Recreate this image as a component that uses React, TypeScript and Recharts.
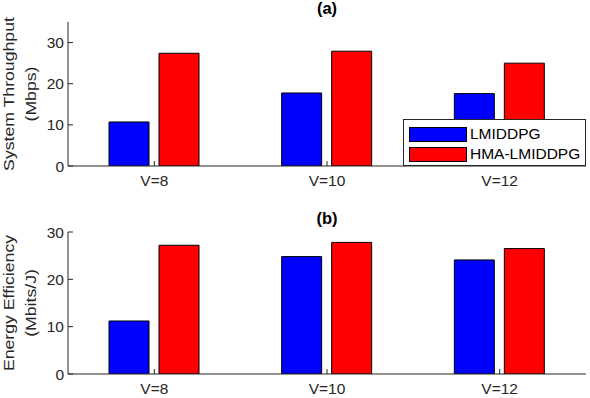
import React from 'react';
import { BarChart, Bar, XAxis, YAxis, Legend } from 'recharts';

const categories = ['V=8', 'V=10', 'V=12'];
const seriesNames = ['LMIDDPG', 'HMA-LMIDDPG'];
const seriesColors = ['#0000ff', '#ff0000'];

const throughputLmi = [10.7, 17.75, 17.6];
const throughputHma = [27.4, 27.9, 25.0];
const efficiencyLmi = [11.2, 24.8, 24.1];
const efficiencyHma = [27.2, 27.8, 26.5];

const throughputTicks = [0, 10, 20, 30];
const efficiencyTicks = [0, 10, 20, 30];

const throughputData = categories.map((c, i) => ({ name: c, a: throughputLmi[i], b: throughputHma[i] }));
const efficiencyData = categories.map((c, i) => ({ name: c, a: efficiencyLmi[i], b: efficiencyHma[i] }));

const FONT = '"Liberation Sans", Arial, Helvetica, sans-serif';
const AXIS = '#262626';
const tickStyle = { fill: AXIS, fontSize: 15.5, fontFamily: FONT };

// y label (two rotated lines) plus the bold panel title above the plot
const SideLabel = ({ viewBox, lines, title, plotWidth }: any) => {
  const cy = viewBox.y + viewBox.height / 2;
  const cx = viewBox.x + viewBox.width + plotWidth / 2;
  return (
    <g>
      {lines.map((t: string, i: number) => (
        <text
          key={i}
          transform={`translate(${13.5 + i * 22.5},${cy}) rotate(-90) scale(1.14,1)`}
          textAnchor="middle"
          fill={AXIS}
          fontSize={15.5}
          fontFamily={FONT}
        >
          {t}
        </text>
      ))}
      <text x={cx} y={viewBox.y - 8} textAnchor="middle" fill="#000" fontSize={16.5} fontWeight="bold" fontFamily={FONT}>
        {title}
      </text>
    </g>
  );
};

const LegendBox = ({ payload }: any) => {
  // keep the series order instead of the alphabetical one
  const items = seriesNames.map((n) => (payload || []).find((p: any) => p.value === n)).filter(Boolean);
  return (
    <div
      style={{
        border: `1px solid ${AXIS}`,
        background: '#fff',
        padding: '4px 0 4px 5px',
        fontFamily: FONT,
        fontSize: 15.5,
        color: '#000',
        boxSizing: 'border-box',
        height: 47,
      }}
    >
      {items.map((p: any, i: number) => (
        <div key={i} style={{ display: 'flex', alignItems: 'center', height: 20 }}>
          <div style={{ width: 58, height: 15, background: p.color, border: '1px solid #000', boxSizing: 'border-box', marginRight: 3 }} />
          <span style={{ lineHeight: '20px' }}>{p.value}</span>
        </div>
      ))}
    </div>
  );
};

type PanelProps = {
  data: any[];
  height: number;
  top: number;
  xHeight: number;
  domainMax: number;
  ticks: number[];
  title: string;
  labelLines: string[];
  legend?: boolean;
};

const W = 590;
const RIGHT = 4;
const YW = 68;

const Panel = ({ data, height, top, xHeight, domainMax, ticks, title, labelLines, legend }: PanelProps) => (
  <BarChart
    width={W}
    height={height}
    data={data}
    margin={{ top, right: RIGHT, bottom: 0, left: 0 }}
    barSize={40}
    barGap={10}
  >
    <XAxis
      dataKey="name"
      height={xHeight}
      stroke={AXIS}
      tick={tickStyle}
      tickSize={-5}
      tickMargin={14}
      interval={0}
    />
    <XAxis
      xAxisId="top"
      dataKey="name"
      orientation="top"
      height={0}
      stroke={AXIS}
      tick={false}
      tickSize={-5}
    />
    <YAxis
      domain={[0, domainMax]}
      ticks={ticks}
      width={YW}
      stroke={AXIS}
      tick={tickStyle}
      tickSize={-5}
      tickMargin={9}
      allowDataOverflow
      label={<SideLabel lines={labelLines} title={title} plotWidth={W - RIGHT - YW} />}
    />
    <YAxis
      yAxisId="r"
      orientation="right"
      domain={[0, domainMax]}
      ticks={ticks}
      width={0}
      stroke={AXIS}
      tick={false}
      tickSize={-5}
      allowDataOverflow
    />
    {legend && (
      <Legend
        layout="vertical"
        align="center"
        verticalAlign="middle"
        content={<LegendBox />}
        wrapperStyle={{ left: 403, top: 119, width: 183, height: 47 }}
      />
    )}
    <Bar dataKey="a" name={seriesNames[0]} fill={seriesColors[0]} stroke="#000" strokeWidth={1} isAnimationActive={false} />
    <Bar dataKey="b" name={seriesNames[1]} fill={seriesColors[1]} stroke="#000" strokeWidth={1} isAnimationActive={false} />
  </BarChart>
);

export default function App() {
  return (
    <div style={{ position: 'absolute', left: 0, top: 0, width: W, height: 398, background: '#fff' }}>
      <Panel
        data={throughputData}
        height={200}
        top={22}
        xHeight={34}
        domainMax={35}
        ticks={throughputTicks}
        title="(a)"
        labelLines={['System Throughput', '(Mbps)']}
        legend
      />
      <Panel
        data={efficiencyData}
        height={198}
        top={32}
        xHeight={24}
        domainMax={30}
        ticks={efficiencyTicks}
        title="(b)"
        labelLines={['Energy Efficiency', '(Mbits/J)']}
      />
    </div>
  );
}
